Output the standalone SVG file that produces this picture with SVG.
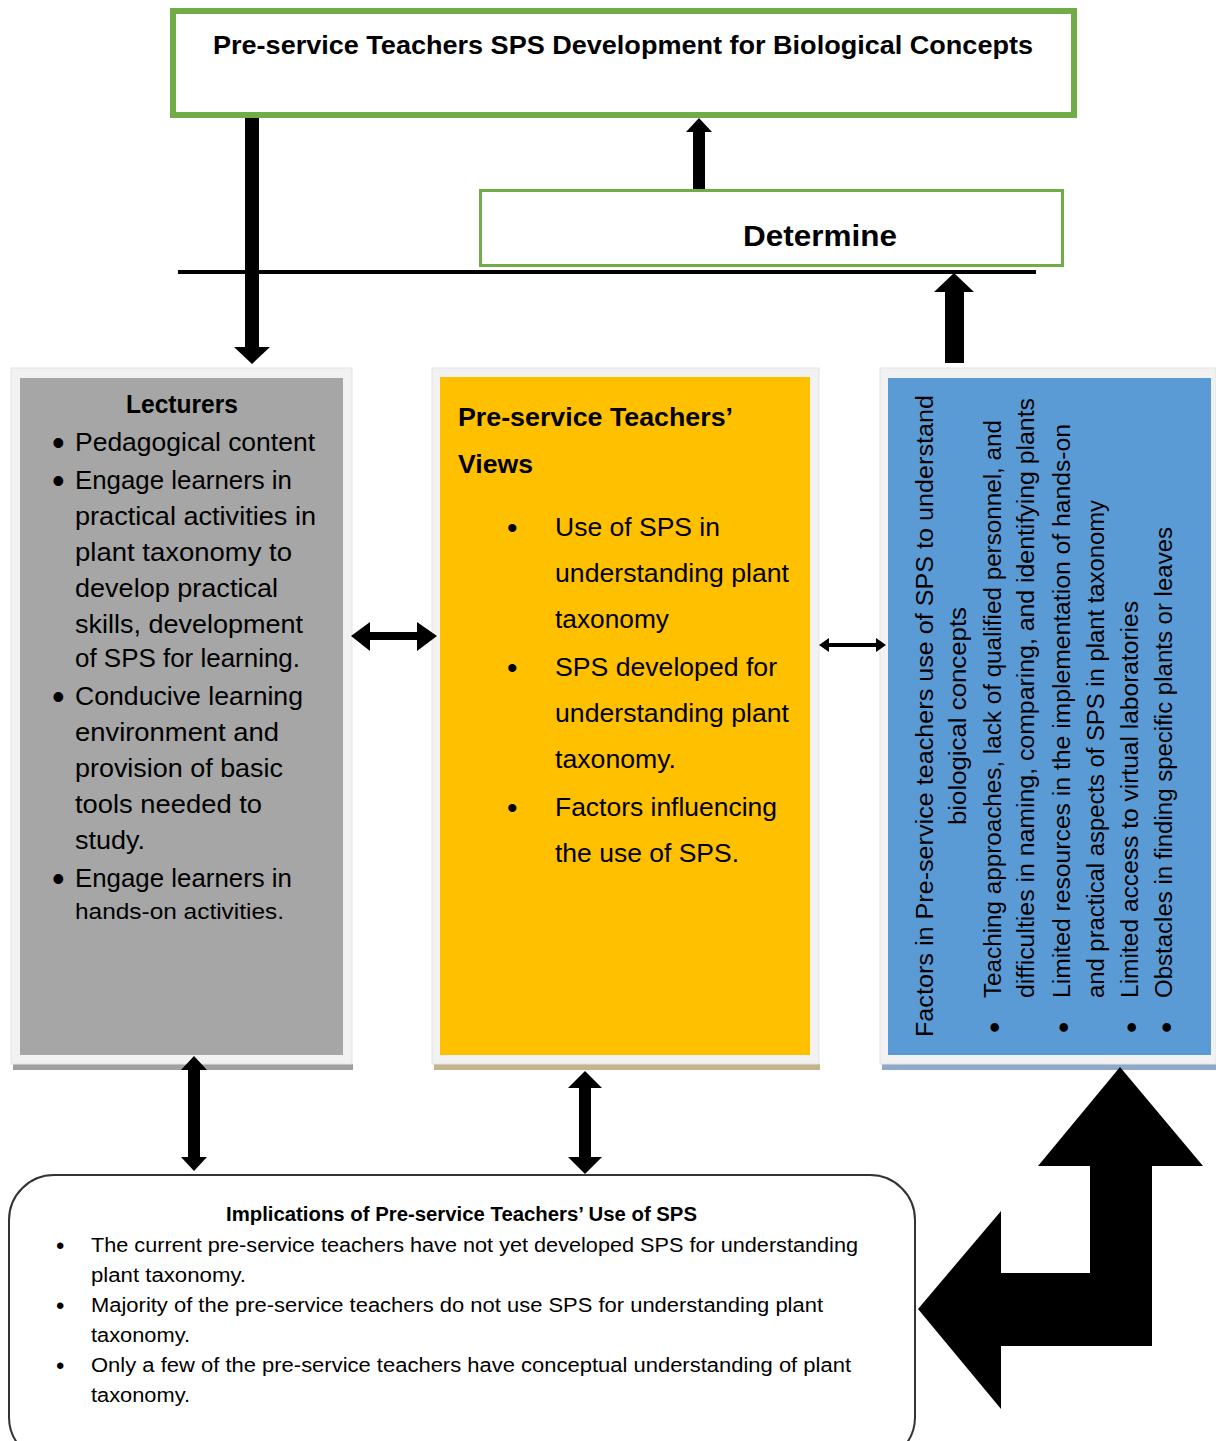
<svg xmlns="http://www.w3.org/2000/svg" width="1216" height="1441" viewBox="0 0 1216 1441">
<style>
text{font-family:"Liberation Sans",Arial,sans-serif;fill:#000}
.b{font-weight:bold}
.lec{font-size:26px}
.mid{font-size:26px;fill:#111a33}
.rot{font-size:23px}
.imp{font-size:20px}
.bl{font-size:36px}
.bm{font-size:30px}
.br{font-size:32px}
.bi{font-size:24px}
.frame{fill:#F2F2F2;stroke:#E4E4E4;stroke-width:1}
.arrow{fill:#000}
</style>
<rect width="1216" height="1441" fill="#fff"/>

<g id="title">
<rect x="173" y="11" width="901" height="104" fill="#fff" stroke="#70AD47" stroke-width="6"/>
<text class="b" x="213" y="54" font-size="25" textLength="820" lengthAdjust="spacingAndGlyphs">Pre-service Teachers SPS Development for Biological Concepts</text>
</g>

<g id="determine">
<rect x="480.5" y="190.5" width="582" height="75" fill="#fff" stroke="#70AD47" stroke-width="3"/>
<text class="b" x="743" y="246" font-size="30" textLength="154" lengthAdjust="spacingAndGlyphs">Determine</text>
</g>

<g id="lecturers">
<rect x="13" y="1064" width="340" height="6" fill="#A0A0A0"/>
<rect class="frame" x="11" y="368" width="341" height="696"/>
<rect x="20" y="378" width="323" height="677" fill="#A6A6A6"/>
<text class="lec b" x="126" y="413" font-size="24" textLength="112" lengthAdjust="spacingAndGlyphs">Lecturers</text>
<text class="bl" x="52" y="455">•</text>
<text class="bl" x="52" y="493">•</text>
<text class="bl" x="52" y="709">•</text>
<text class="bl" x="52" y="891">•</text>
<g class="lec">
<text x="75" y="451" textLength="240" lengthAdjust="spacingAndGlyphs">Pedagogical content</text>
<text x="75" y="489" textLength="217" lengthAdjust="spacingAndGlyphs">Engage learners in</text>
<text x="75" y="525" textLength="241" lengthAdjust="spacingAndGlyphs">practical activities in</text>
<text x="75" y="561" textLength="217" lengthAdjust="spacingAndGlyphs">plant taxonomy to</text>
<text x="75" y="597" textLength="203" lengthAdjust="spacingAndGlyphs">develop practical</text>
<text x="75" y="633" textLength="228" lengthAdjust="spacingAndGlyphs">skills, development</text>
<text x="75" y="667" textLength="225" lengthAdjust="spacingAndGlyphs">of SPS for learning.</text>
<text x="75" y="705" textLength="228" lengthAdjust="spacingAndGlyphs">Conducive learning</text>
<text x="75" y="741" textLength="204" lengthAdjust="spacingAndGlyphs">environment and</text>
<text x="75" y="777" textLength="208" lengthAdjust="spacingAndGlyphs">provision of basic</text>
<text x="75" y="813" textLength="187" lengthAdjust="spacingAndGlyphs">tools needed to</text>
<text x="75" y="849" textLength="70" lengthAdjust="spacingAndGlyphs">study.</text>
<text x="75" y="887" textLength="217" lengthAdjust="spacingAndGlyphs">Engage learners in</text>
<text x="75" y="919" font-size="22" textLength="209" lengthAdjust="spacingAndGlyphs">hands-on activities.</text>
</g>
</g>

<g id="views">
<rect x="434" y="1064" width="386" height="6" fill="#C4B48A"/>
<rect class="frame" x="432" y="368" width="387" height="696"/>
<rect x="440" y="377" width="370" height="678" fill="#FFC000"/>
<text class="b" x="458" y="426" font-size="26" textLength="275" lengthAdjust="spacingAndGlyphs">Pre-service Teachers’</text>
<text class="b" x="458" y="473" font-size="26" textLength="75" lengthAdjust="spacingAndGlyphs">Views</text>
<text class="bm" x="507" y="538">•</text>
<text class="bm" x="507" y="678">•</text>
<text class="bm" x="507" y="818">•</text>
<g class="mid">
<text x="555" y="536" textLength="165" lengthAdjust="spacingAndGlyphs">Use of SPS in</text>
<text x="555" y="582" textLength="234" lengthAdjust="spacingAndGlyphs">understanding plant</text>
<text x="555" y="628" textLength="114" lengthAdjust="spacingAndGlyphs">taxonomy</text>
<text x="555" y="676" textLength="222" lengthAdjust="spacingAndGlyphs">SPS developed for</text>
<text x="555" y="722" textLength="234" lengthAdjust="spacingAndGlyphs">understanding plant</text>
<text x="555" y="768" textLength="121" lengthAdjust="spacingAndGlyphs">taxonomy.</text>
<text x="555" y="816" textLength="222" lengthAdjust="spacingAndGlyphs">Factors influencing</text>
<text x="555" y="862" textLength="184" lengthAdjust="spacingAndGlyphs">the use of SPS.</text>
</g>
</g>

<g id="factors">
<rect x="882" y="1064" width="334" height="6" fill="#8FA9C9"/>
<rect class="frame" x="880" y="368" width="336" height="696"/>
<rect x="888" y="378" width="323" height="677" fill="#5B9BD5"/>
<text class="br" transform="translate(1004.5,1033) rotate(-90)">•</text>
<text class="br" transform="translate(1073.5,1033) rotate(-90)">•</text>
<text class="br" transform="translate(1141.5,1033) rotate(-90)">•</text>
<text class="br" transform="translate(1176.5,1033) rotate(-90)">•</text>
<g class="rot">
<text transform="translate(933,1037) rotate(-90)" textLength="642" lengthAdjust="spacingAndGlyphs">Factors in Pre-service teachers use of SPS to understand</text>
<text transform="translate(966,825) rotate(-90)" textLength="218" lengthAdjust="spacingAndGlyphs">biological concepts</text>
<text transform="translate(1001,998) rotate(-90)" textLength="578" lengthAdjust="spacingAndGlyphs">Teaching approaches, lack of qualified personnel, and</text>
<text transform="translate(1034,998) rotate(-90)" textLength="600" lengthAdjust="spacingAndGlyphs">difficulties in naming, comparing, and identifying plants</text>
<text transform="translate(1070,998) rotate(-90)" textLength="574" lengthAdjust="spacingAndGlyphs">Limited resources in the implementation of hands-on</text>
<text transform="translate(1104,998) rotate(-90)" textLength="498" lengthAdjust="spacingAndGlyphs">and practical aspects of SPS in plant taxonomy</text>
<text transform="translate(1138,998) rotate(-90)" textLength="397" lengthAdjust="spacingAndGlyphs">Limited access to virtual laboratories</text>
<text transform="translate(1172,998) rotate(-90)" textLength="471" lengthAdjust="spacingAndGlyphs">Obstacles in finding specific plants or leaves</text>
</g>
</g>

<g id="implications">
<rect x="9" y="1175" width="906" height="287" rx="45" ry="45" fill="#fff" stroke="#333" stroke-width="2"/>
<text class="b" x="226" y="1221" font-size="20" textLength="471" lengthAdjust="spacingAndGlyphs">Implications of Pre-service Teachers’ Use of SPS</text>
<text class="bi" x="56" y="1254">•</text>
<text class="bi" x="56" y="1314">•</text>
<text class="bi" x="56" y="1374">•</text>
<g class="imp">
<text x="91" y="1252" textLength="767" lengthAdjust="spacingAndGlyphs">The current pre-service teachers have not yet developed SPS for understanding</text>
<text x="91" y="1282" textLength="155" lengthAdjust="spacingAndGlyphs">plant taxonomy.</text>
<text x="91" y="1312" textLength="732" lengthAdjust="spacingAndGlyphs">Majority of the pre-service teachers do not use SPS for understanding plant</text>
<text x="91" y="1342" textLength="99" lengthAdjust="spacingAndGlyphs">taxonomy.</text>
<text x="91" y="1372" textLength="760" lengthAdjust="spacingAndGlyphs">Only a few of the pre-service teachers have conceptual understanding of plant</text>
<text x="91" y="1402" textLength="99" lengthAdjust="spacingAndGlyphs">taxonomy.</text>
</g>
</g>

<g id="connectors">
<line x1="178" y1="272" x2="1036" y2="272" stroke="#000" stroke-width="4"/>
<polygon class="arrow" points="245,118 259,118 259,347 270,347 252,364 234,347 245,347"/>
<polygon class="arrow" points="699,118 712,132 705,132 705,189 693,189 693,132 686,132"/>
<polygon class="arrow" points="954,273 974,292 964,292 964,363 945,363 945,292 934,292"/>
<polygon class="arrow" points="351,636 370,622 370,632 417,632 417,622 437,636 417,651 417,640 370,640 370,651"/>
<polygon class="arrow" points="819,645 829,638 829,643 876,643 876,638 886,645 876,652 876,647 829,647 829,652"/>
<polygon class="arrow" points="194,1056 207,1070 200,1070 200,1157 207,1157 194,1171 181,1157 188,1157 188,1070 181,1070"/>
<polygon class="arrow" points="585,1071 602,1088 591,1088 591,1157 602,1157 585,1174 568,1157 579,1157 579,1088 568,1088"/>
<polygon class="arrow" points="1120,1067 1203,1166 1152,1166 1152,1346 1001,1346 1001,1409 918,1309 1001,1211 1001,1273 1090,1273 1090,1166 1038,1166"/>
</g>
</svg>
